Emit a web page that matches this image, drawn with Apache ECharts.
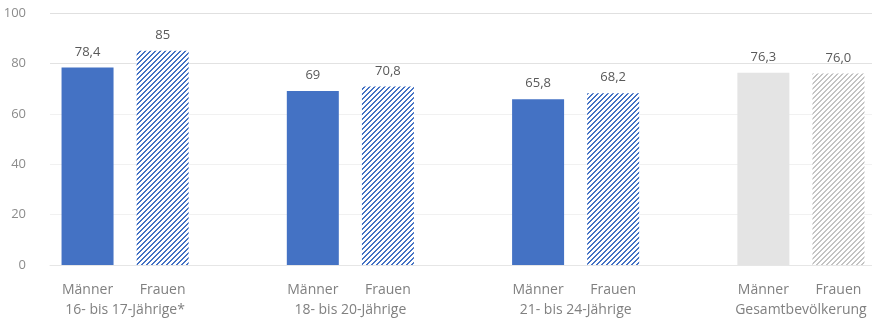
<!DOCTYPE html>
<html>
<head>
<meta charset="utf-8">
<script src="https://cdn.jsdelivr.net/npm/echarts@6/dist/echarts.min.js"></script>
<style>html,body{margin:0;padding:0;background:#fff;overflow:hidden}#c{width:880px;height:322px}</style>
</head>
<body>
<div id="c"></div>
<script>
// ---- data ----
var groups = ['16- bis 17-Jährige*', '18- bis 20-Jährige', '21- bis 24-Jährige', 'Gesamtbevölkerung'];
var sexes = ['Männer', 'Frauen'];
var maennerValues = [78.4, 69, 65.8, 76.3];
var frauenValues = [85, 70.8, 68.2, 76.0];
var maennerLabels = ['78,4', '69', '65,8', '76,3'];
var frauenLabels = ['85', '70,8', '68,2', '76,0'];
var yTicks = [0, 20, 40, 60, 80, 100];

// ---- patterns ----
function hatch(color, n, k) {
  var cv = document.createElement('canvas');
  cv.width = n; cv.height = n;
  var ctx = cv.getContext('2d');
  ctx.fillStyle = '#ffffff';
  ctx.fillRect(0, 0, n, n);
  ctx.fillStyle = color;
  for (var x = 0; x < n; x++) for (var y = 0; y < n; y++) {
    if ((x + y) % n < k) ctx.fillRect(x, y, 1, 1);
  }
  return { image: cv, repeat: 'repeat' };
}
var blueSolid = '#4472C4';
var blueHatch = hatch('#4472C4', 5, 2);
var graySolid = '#e4e4e4';
var grayHatch = hatch('#c4c4c4', 5, 2);

// ---- build category axis & bar data ----
var cats = [], barData = [];
groups.forEach(function (g, gi) {
  if (gi > 0) { cats.push(''); barData.push(null); }
  var last = gi === groups.length - 1;
  cats.push(sexes[0]);
  barData.push({ value: maennerValues[gi], lbl: maennerLabels[gi],
    itemStyle: { color: last ? graySolid : blueSolid } });
  cats.push(sexes[1]);
  barData.push({ value: frauenValues[gi], lbl: frauenLabels[gi],
    itemStyle: { color: last ? grayHatch : blueHatch } });
});
// group label axis: boundary positions between the two bars of each group
var groupCats = [];
for (var j = 0; j <= cats.length * 2; j++) groupCats.push('');
groups.forEach(function (g, gi) { groupCats[2 + gi * 6] = g; });

var chart = echarts.init(document.getElementById('c'), null, { renderer: 'canvas' });
var font = '"Open Sans", "Noto Sans", sans-serif';
chart.setOption({
  animation: false,
  grid: { left: 50, top: 13, right: 4, bottom: 57, containLabel: false },
  xAxis: [{
    type: 'category', data: cats,
    axisLine: { show: true, lineStyle: { color: '#e6e6e6' } },
    axisTick: { show: false },
    axisLabel: { interval: 0, margin: 18, fontSize: 14, color: '#808080', fontFamily: font }
  }, {
    type: 'category', data: groupCats, boundaryGap: false, position: 'bottom',
    axisLine: { show: false }, axisTick: { show: false },
    axisLabel: { interval: 0, margin: 38, fontSize: 14, color: '#808080', fontFamily: font }
  }],
  yAxis: {
    type: 'value', min: yTicks[0], max: yTicks[yTicks.length - 1], interval: 20,
    axisLine: { show: false }, axisTick: { show: false },
    axisLabel: { margin: 24, fontSize: 13, color: '#8c8c8c', fontFamily: font },
    splitLine: { lineStyle: { color: ['#e6e6e6', '#f1f1f1', '#f1f1f1', '#f1f1f1', '#e2e2e2', '#e0e0e0'] } }
  },
  series: [{
    type: 'bar', xAxisIndex: 0, data: barData, barWidth: 52,
    label: { show: true, position: 'top', distance: 9, fontSize: 13, color: '#595959', fontFamily: font,
      formatter: function (p) { return p.data.lbl; } }
  }]
});
</script>
</body>
</html>
